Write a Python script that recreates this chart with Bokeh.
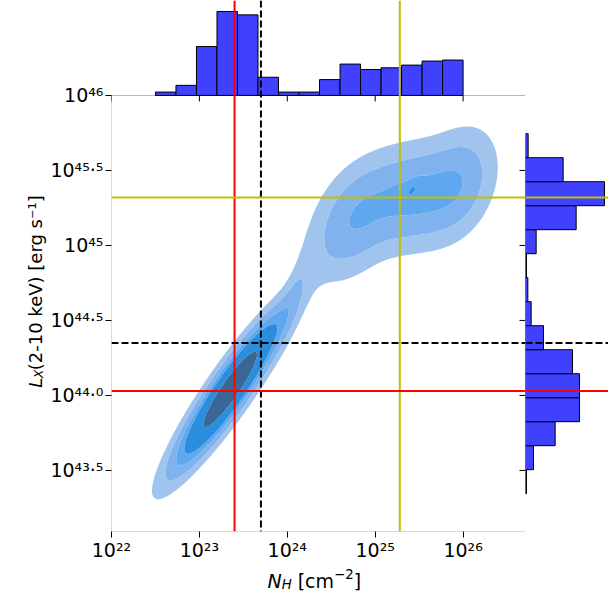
import math
import numpy as np
from bokeh.plotting import figure
from bokeh.layouts import row, column
from bokeh.models import Span, FixedTicker, Range1d, BoxAnnotation
from bokeh.core.properties import value
from bokeh.embed import file_html
from bokeh.resources import INLINE

# ---------------- data (log10 values) ----------------
# marginal histogram of log N_H (top)
nh_bin_lo, nh_bin_hi, nh_nbins = 22.5, 26.0, 15
nh_counts = [1.0, 3.0, 14.5, 24.9, 23.9, 5.4, 1.0, 1.0, 4.7, 9.3, 7.7, 8.2, 9.0, 10.2, 10.5]

# marginal histogram of log L_X (right), from low to high L_X
lx_bin_lo, lx_bin_hi, lx_nbins = 43.345, 45.745, 15
lx_counts = [0.3, 2.4, 8.9, 16.2, 16.2, 14.1, 5.4, 1.7, 0.7, 0.3, 3.2, 15.2, 23.7, 11.3, 0.8]

# reference lines
ref_nh = [23.40, 23.70, 25.28]
ref_lx = [44.03, 44.35, 45.32]
ref_color = ["#ff0000", "#000000", "#bfbf00"]
ref_dash = ["solid", "7 3", "solid"]

# density model (Gaussian components)
kde_amp = [1.00, 0.07, 0.26, 0.26, 0.24, 0.10]
kde_mx = [23.35, 24.10, 24.75, 25.40, 25.95, 25.42]
kde_my = [44.04, 44.72, 45.17, 45.32, 45.41, 45.37]
kde_sa = [0.49, 0.25, 0.34, 0.32, 0.30, 0.07]
kde_sb = [0.097, 0.07, 0.21, 0.21, 0.21, 0.03]
kde_ang = [39, 60, 30, 15, 30, 30]
kde_levels = [0.07, 0.16, 0.28, 0.40, 0.73, 2.0]
kde_colors = ["#a0c4ee", "#80b3ee", "#5fa7ef", "#2b8ddd", "#3a6896"]

# axes
x_lo, x_hi = 22.0, 26.71
y_lo, y_main_hi, y_fig_hi = 43.093, 46.0, 46.633
x_ticks = [22, 23, 24, 25, 26]
x_tick_labels = ["10²²", "10²³", "10²⁴", "10²⁵", "10²⁶"]
y_ticks = [43.5, 44.0, 44.5, 45.0, 45.5, 46.0]
y_tick_labels = ["10⁴³·⁵", "10⁴⁴·⁰", "10⁴⁴·⁵", "10⁴⁵", "10⁴⁵·⁵", "10⁴⁶"]

bar_color = "#4040ff"
FONT = "DejaVu Sans"
TXT = "black"

# ---------------- density grid ----------------
xg = np.linspace(x_lo, x_hi, 380)
yg = np.linspace(y_lo, y_main_hi, 330)
X, Y = np.meshgrid(xg, yg)
Z = np.zeros_like(X)
for a, mx, my, sa, sb, ang in zip(kde_amp, kde_mx, kde_my, kde_sa, kde_sb, kde_ang):
    t = math.radians(ang)
    dx, dy = X - mx, Y - my
    u = dx * math.cos(t) + dy * math.sin(t)
    v = -dx * math.sin(t) + dy * math.cos(t)
    Z += a * np.exp(-0.5 * ((u / sa) ** 2 + (v / sb) ** 2))

# ---------------- layout sizes (px) ----------------
W_YT, W_MAIN, W_RIGHT = 47, 478, 83
H_ROW, H_XT = 565, 28
B_LEFT, B_BOTTOM = 64, 34


def bare(fig):
    fig.grid.visible = False
    fig.outline_line_color = None
    fig.background_fill_color = "white"
    fig.border_fill_color = "white"
    return fig


def label(fig, x, y, txt, size, italic=False, angle=0.0):
    fig.text(x=[x], y=[y], text=[txt], angle=angle, text_font=value(FONT),
             text_font_size=value(size), text_font_style="italic" if italic else "normal",
             text_color=TXT, text_align="left", text_baseline="alphabetic")


# ---------------- main figure (with top histogram) ----------------
F = bare(figure(width=W_MAIN, height=H_ROW, x_range=Range1d(x_lo, x_hi), y_range=Range1d(y_lo, y_fig_hi),
                output_backend="svg", toolbar_location=None,
                min_border_left=B_LEFT, min_border_right=0, min_border_top=0, min_border_bottom=B_BOTTOM))

hist_top = max(nh_counts) * 95.0 / 84.0
hist_start = (y_lo - y_main_hi) * hist_top / (y_fig_hi - y_main_hi)
F.extra_y_ranges = {"hist": Range1d(hist_start, hist_top)}

F.contour(x=xg, y=yg, z=Z, levels=kde_levels, fill_color=kde_colors, line_color=None)

nh_edges = np.linspace(nh_bin_lo, nh_bin_hi, nh_nbins + 1)
F.quad(left=nh_edges[:-1], right=nh_edges[1:], bottom=0, top=nh_counts, y_range_name="hist",
       fill_color=bar_color, line_color="black", line_width=1)

# inner ticks on the top and right edges of the main panel
F.ray(x=x_ticks, y=y_main_hi, length=6, length_units="screen", angle=-math.pi / 2,
      line_color="black", line_width=1)
F.ray(x=x_hi, y=y_ticks[:-1], length=6, length_units="screen", angle=math.pi,
      line_color="black", line_width=1)

F.add_layout(BoxAnnotation(left=x_lo, right=x_hi, bottom=y_lo, top=y_main_hi,
                           fill_color=None, fill_alpha=0, line_color="black", line_width=1))

for ax, ticks, labels, so in ((F.xaxis[0], x_ticks, x_tick_labels, 1), (F.yaxis[0], y_ticks, y_tick_labels, 2)):
    ax.ticker = FixedTicker(ticks=ticks, minor_ticks=[])
    ax.major_label_overrides = {t: l for t, l in zip(ticks, labels)}
    ax.major_tick_out = 6
    ax.major_tick_in = 0
    ax.minor_tick_line_color = None
    ax.axis_line_color = None
    ax.major_tick_line_color = "black"
    ax.major_label_text_font = FONT
    ax.major_label_text_font_size = "19px"
    ax.major_label_text_color = TXT
    ax.major_label_standoff = so

for x, c, d in zip(ref_nh, ref_color, ref_dash):
    F.add_layout(Span(location=x, dimension="height", line_color=c, line_width=2, line_dash=d))
for y, c, d in zip(ref_lx, ref_color, ref_dash):
    F.add_layout(Span(location=y, dimension="width", line_color=c, line_width=2, line_dash=d))

# ---------------- right histogram ----------------
R = bare(figure(width=W_RIGHT, height=H_ROW, x_range=Range1d(0, 24.9), y_range=F.y_range,
                output_backend="svg", toolbar_location=None,
                x_axis_location=None, y_axis_location=None,
                min_border_left=0, min_border_right=0, min_border_top=0, min_border_bottom=B_BOTTOM))
lx_edges = np.linspace(lx_bin_lo, lx_bin_hi, lx_nbins + 1)
R.quad(left=0, right=lx_counts, bottom=lx_edges[:-1], top=lx_edges[1:],
       fill_color=bar_color, line_color="black", line_width=1)
for y, c, d in zip(ref_lx, ref_color, ref_dash):
    R.add_layout(Span(location=y, dimension="width", line_color=c, line_width=2, line_dash=d))

# ---------------- y-axis title (rotated) ----------------
TY = bare(figure(width=W_YT, height=H_ROW, x_range=Range1d(0, W_YT), y_range=Range1d(0, H_ROW),
                 output_backend="svg", toolbar_location=None,
                 x_axis_location=None, y_axis_location=None, min_border=0))
label(TY, 34.5, 153.0, "L", "18px", italic=True, angle=math.pi / 2)
label(TY, 38.0, 163.0, "X", "12.6px", italic=True, angle=math.pi / 2)
label(TY, 34.5, 171.6, "(2-10 keV) [erg s⁻¹]", "18px", angle=math.pi / 2)

# ---------------- x-axis title ----------------
W_ALL = W_YT + W_MAIN + W_RIGHT
TX = bare(figure(width=W_ALL, height=H_XT, x_range=Range1d(0, W_ALL), y_range=Range1d(0, H_XT),
                 output_backend="svg", toolbar_location=None,
                 x_axis_location=None, y_axis_location=None, min_border=0))
label(TX, 267.0, 13.0, "N", "19px", italic=True)
label(TX, 281.2, 9.3, "H", "13.3px", italic=True)
label(TX, 297.2, 13.0, "[cm", "19px")
label(TX, 333.6, 20.0, "−2", "13.3px")
label(TX, 353.2, 13.0, "]", "19px")

layout = column(row(TY, F, R), TX)
open("out.html", "w").write(file_html(layout, INLINE))
